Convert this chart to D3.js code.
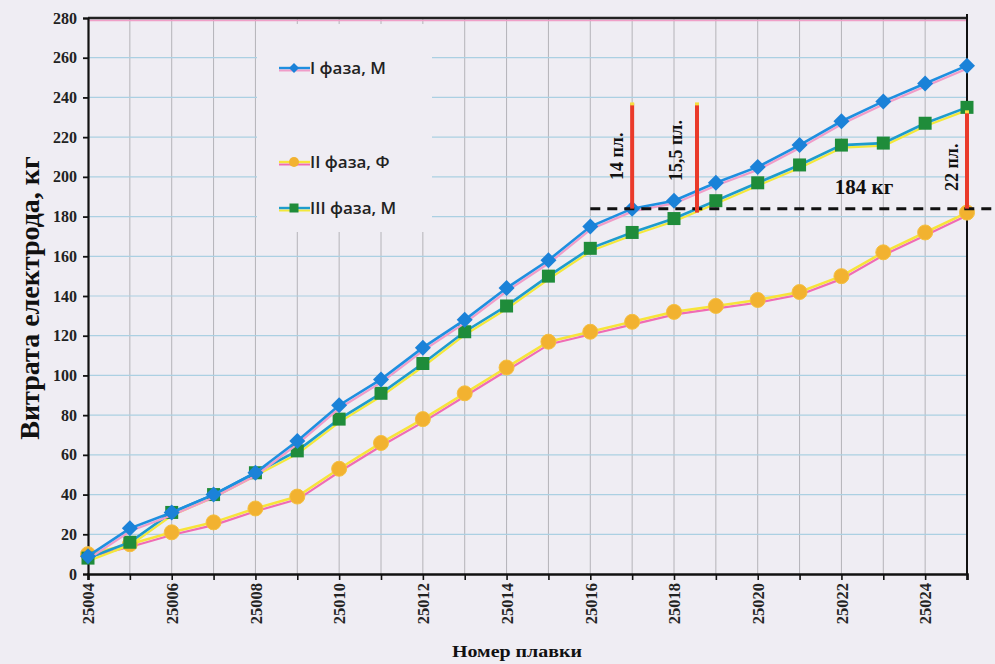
<!DOCTYPE html>
<html><head><meta charset="utf-8">
<script src="https://cdn.jsdelivr.net/npm/d3@7"></script>
<style>
html,body{margin:0;padding:0;background:#efedf3;}
svg{display:block;}
</style></head>
<body>
<script>
const heats = d3.range(25004, 25026);
const phase1 = [9,23,31,40,51,67,85,98,114,128,144,158,175,184,188,197,205,216,228,238,247,256];
const phase2 = [10,15,21,26,33,39,53,66,78,91,104,117,122,127,132,135,138,142,150,162,172,182];
const phase3 = [8,16,31,40,51,62,78,91,106,122,135,150,164,172,179,188,197,206,216,217,227,235];
const yTicks = d3.range(0, 281, 20);
const xLabelTicks = d3.range(25004, 25025, 2);
const seriesNames = ["I фаза, М", "II фаза, Ф", "III фаза, М"];
const refLevel = 184;
const markLines = [
  {heat: 25017, from: 184, to: 237, label: "14 пл."},
  {heat: 25018.55, from: 182, to: 237, label: "15,5 пл."},
  {heat: 25025, from: 184, to: 233, label: "22 пл."}
];
const refLabel = "184 кг";
const yTitle = "Витрата електрода, кг";
const xTitle = "Номер плавки";

const W = 995, H = 664;
const bg = "#efedf3";
const svg = d3.select("body").append("svg").attr("width", W).attr("height", H);
svg.append("rect").attr("width", W).attr("height", H).attr("fill", bg);

const x = d3.scaleLinear().domain([25004, 25025]).range([88, 967]);
const y = d3.scaleLinear().domain([0, 280]).range([574, 18]);
const serif = "'Liberation Serif','Times New Roman',serif";

// gridlines
const grid = svg.append("g");
grid.selectAll("line.v").data(heats.slice(1)).join("line")
  .attr("x1", d => x(d)).attr("x2", d => x(d)).attr("y1", y(280)).attr("y2", y(0))
  .attr("stroke", "#b4b3b8").attr("stroke-width", 1);
grid.selectAll("line.h").data(yTicks.slice(1, -1)).join("line")
  .attr("x1", x(25004)).attr("x2", x(25025)).attr("y1", d => y(d)).attr("y2", d => y(d))
  .attr("stroke", "#abd0e2").attr("stroke-width", 1.2);

// legend box (covers grid)
svg.append("rect").attr("x", 257).attr("y", 24).attr("width", 175).attr("height", 208).attr("fill", bg);

// top border with pink shadow
svg.append("line").attr("x1", x(25004)).attr("x2", x(25025)).attr("y1", y(280) + 2.5).attr("y2", y(280) + 2.5)
  .attr("stroke", "#f0a0c8").attr("stroke-width", 1.5);
svg.append("line").attr("x1", x(25004)).attr("x2", x(25025)).attr("y1", y(280)).attr("y2", y(280))
  .attr("stroke", "#222").attr("stroke-width", 2.5);
// right border
svg.append("line").attr("x1", x(25025)).attr("x2", x(25025)).attr("y1", y(280) - 4).attr("y2", y(0))
  .attr("stroke", "#111").attr("stroke-width", 2);

// axes
const yAxis = svg.append("g").attr("transform", `translate(${x(25004)},0)`)
  .call(d3.axisLeft(y).tickValues(yTicks).tickSize(5).tickPadding(6));
yAxis.select(".domain").attr("stroke", "#111").attr("stroke-width", 2.2);
yAxis.selectAll(".tick line").attr("stroke", "#111").attr("stroke-width", 1.8);
yAxis.selectAll("text").attr("font-family", serif).attr("font-weight", "bold").attr("font-size", 16).attr("fill", "#222");

const xAxis = svg.append("g").attr("transform", `translate(0,${y(0)})`)
  .call(d3.axisBottom(x).tickValues(heats).tickSize(6).tickFormat(d => xLabelTicks.includes(d) ? String(d) : ""));
xAxis.select(".domain").attr("stroke", "#111").attr("stroke-width", 2.6);
xAxis.selectAll(".tick line").attr("stroke", "#111").attr("stroke-width", 1.6);
xAxis.selectAll("text").attr("font-family", serif).attr("font-weight", "bold").attr("font-size", 16.5).attr("fill", "#222")
  .attr("transform", "rotate(-90)").attr("text-anchor", "end").attr("x", -9).attr("y", 0).attr("dy", "0.35em");

// axis titles
svg.append("text").attr("transform", `translate(39,298) rotate(-90)`).attr("text-anchor", "middle")
  .attr("font-family", serif).attr("font-weight", "bold").attr("font-size", 28).attr("fill", "#111").text(yTitle);
svg.append("text").attr("x", 517).attr("y", 657).attr("text-anchor", "middle")
  .attr("font-family", serif).attr("font-weight", "bold").attr("font-size", 16).attr("fill", "#111")
  .attr("textLength", 130).attr("lengthAdjust", "spacingAndGlyphs").text(xTitle);

// series
const styles = [
  {main: "#1e8fe0", shadow: "#f09cc8", marker: "diamond", fill: "#1b82d8"},
  {main: "#f7e43a", shadow: "#f06cb4", marker: "circle", fill: "#f2b230"},
  {main: "#1e9ccc", shadow: "#f3e83a", marker: "square", fill: "#1f8c3a"}
];
const data = [phase1, phase2, phase3];
const line = d3.line().x(d => d[0]).y(d => d[1]);

function markerPath(type, cx, cy, s) {
  if (type === "diamond") return `M${cx},${cy - s}L${cx + s},${cy}L${cx},${cy + s}L${cx - s},${cy}Z`;
  if (type === "square") return `M${cx - s},${cy - s}h${2 * s}v${2 * s}h${-2 * s}Z`;
  return `M${cx - s},${cy}a${s},${s} 0 1,0 ${2 * s},0a${s},${s} 0 1,0 ${-2 * s},0Z`;
}

const order = [1, 2, 0];
order.forEach(i => {
  const pts = heats.map((h, j) => [x(h), y(data[i][j])]);
  const g = svg.append("g");
  g.append("path").attr("d", line(pts.map(p => [p[0] + 1, p[1] + 2.5]))).attr("fill", "none")
    .attr("stroke", styles[i].shadow).attr("stroke-width", 2.2);
  g.append("path").attr("d", line(pts)).attr("fill", "none").attr("stroke", styles[i].main).attr("stroke-width", 2.6);
  const size = styles[i].marker === "diamond" ? 8 : styles[i].marker === "square" ? 6.5 : 7.5;
  g.selectAll("path.m").data(pts).join("path").attr("class", "m")
    .attr("d", p => markerPath(styles[i].marker, p[0], p[1], size)).attr("fill", styles[i].fill)
    .attr("stroke", styles[i].marker === "circle" ? "#f5c040" : "none").attr("stroke-width", 1);
});

// reference dashed line
svg.append("line").attr("x1", x(25016)).attr("x2", W).attr("y1", y(refLevel)).attr("y2", y(refLevel))
  .attr("stroke", "#111").attr("stroke-width", 3).attr("stroke-dasharray", "10,7");

// red vertical lines
markLines.forEach(m => {
  svg.append("line").attr("x1", x(m.heat)).attr("x2", x(m.heat)).attr("y1", y(m.to)).attr("y2", y(m.from))
    .attr("stroke", "#ea3a2a").attr("stroke-width", 4);
  svg.append("line").attr("x1", x(m.heat)).attr("x2", x(m.heat)).attr("y1", y(m.to) - 1).attr("y2", y(m.to) + 2)
    .attr("stroke", "#f5e040").attr("stroke-width", 4);
});
const labelPos = [{dx: -15, yEnd: 180}, {dx: -21, yEnd: 181}, {dx: -15, yEnd: 191}];
markLines.forEach((m, k) => {
  svg.append("text").attr("transform", `translate(${x(m.heat) + labelPos[k].dx + 6},${labelPos[k].yEnd}) rotate(-90)`)
    .attr("text-anchor", "start").attr("font-family", serif).attr("font-weight", "bold").attr("font-size", 18)
    .attr("fill", "#111").text(m.label);
});
svg.append("text").attr("x", 864).attr("y", 194).attr("text-anchor", "middle").attr("font-family", serif)
  .attr("font-weight", "bold").attr("font-size", 21).attr("fill", "#111").text(refLabel);

// legend
const legY = [68, 162, 208];
seriesNames.forEach((name, i) => {
  const g = svg.append("g").attr("transform", `translate(279,${legY[i]})`);
  g.append("line").attr("x1", 0).attr("x2", 31).attr("y1", 2.5).attr("y2", 2.5).attr("stroke", styles[i].shadow).attr("stroke-width", 2);
  g.append("line").attr("x1", 0).attr("x2", 31).attr("y1", 0).attr("y2", 0).attr("stroke", styles[i].main).attr("stroke-width", 2.4);
  g.append("path").attr("d", markerPath(styles[i].marker, 15, 0, styles[i].marker === "square" ? 4.5 : 5)).attr("fill", styles[i].fill);
  g.append("text").attr("x", 31).attr("y", 0).attr("dy", "0.36em").attr("font-family", "'Open Sans',sans-serif")
    .attr("font-weight", 600).attr("font-size", 17).attr("fill", "#222").text(name);
});
</script>
</body></html>
